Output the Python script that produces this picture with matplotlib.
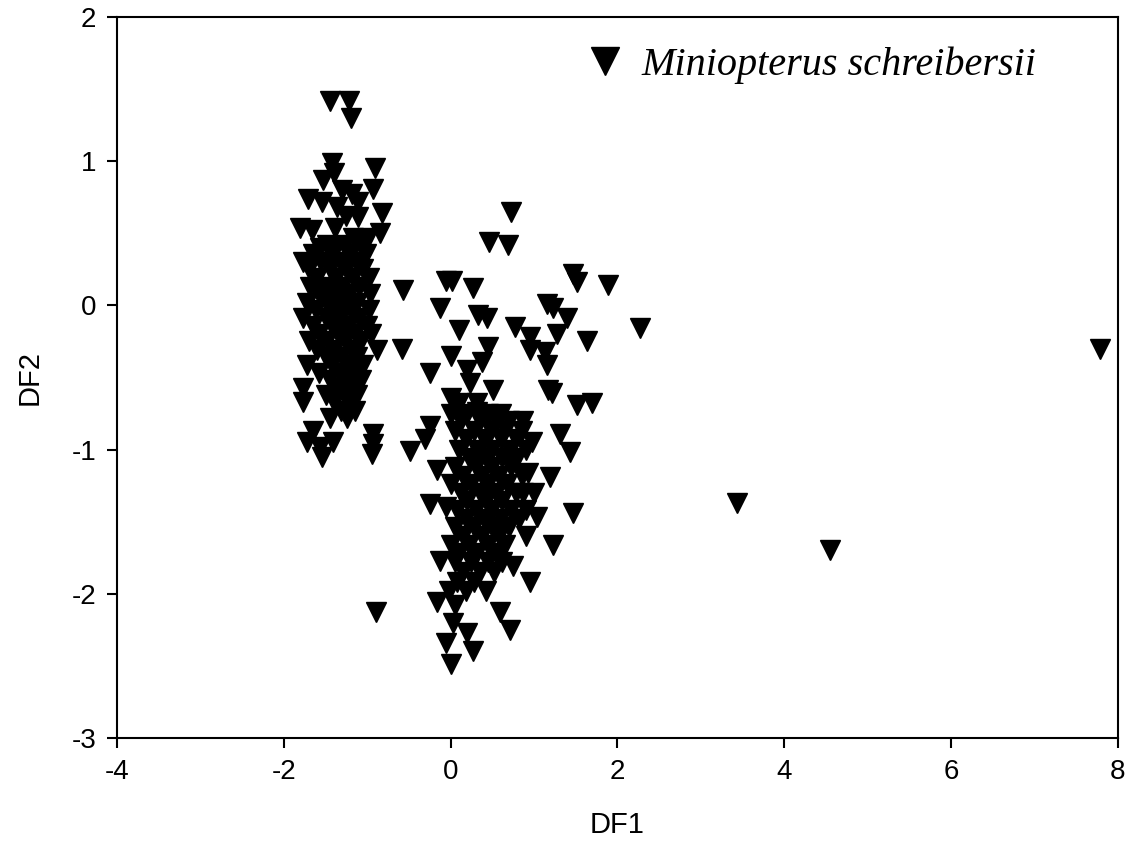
import numpy as np
import matplotlib
matplotlib.use("Agg")
from matplotlib import pyplot as plt

plt.rcParams['font.family'] = ['Liberation Sans', 'DejaVu Sans']
plt.rcParams['axes.unicode_minus'] = False

# left cluster (DF1, DF2)
left_x = [-1.45, -1.22, -1.20,
          -1.42, -1.40, -0.91, -1.53, -1.30, -1.18, -0.93, -1.71, -1.54, -1.36, -1.11,
          -0.82, -1.11, -1.25, -1.81, -1.66, -1.39, -0.85, -1.17, -0.99, -1.57, -1.37,
          -1.77, -0.57,
          -1.48, -1.28, -1.08,
          -1.65, -1.42, -1.20, -1.02,
          -1.55, -1.33, -1.13,
          -1.70, -1.45, -1.25, -1.05,
          -1.60, -1.38, -1.17, -0.98,
          -1.68, -1.50, -1.30, -1.10,
          -1.58, -1.40, -1.22, -0.97,
          -1.72, -1.48, -1.30, -1.12,
          -1.62, -1.40, -1.20, -0.98,
          -1.77, -1.50, -1.32, -1.10,
          -1.65, -1.42, -1.22, -1.00,
          -1.58, -1.35, -1.15, -0.95,
          -1.70, -1.48, -1.27, -1.07,
          -1.60, -1.40, -1.18, -0.88,
          -1.50, -1.30, -1.12,
          -1.72, -1.42, -1.22, -1.05,
          -1.58, -1.33, -1.15,
          -1.45, -1.25, -1.08,
          -1.77, -1.37, -1.18,
          -1.50, -1.28, -1.12,
          -1.77, -1.40, -1.20,
          -1.32, -1.15,
          -1.45, -1.24,
          -1.65, -1.72, -1.57, -1.41, -1.54, -0.93, -0.93, -0.94, -0.58]
left_y = [1.42, 1.42, 1.30,
          0.99, 0.92, 0.95, 0.87, 0.80, 0.77, 0.81, 0.74, 0.72, 0.68, 0.72,
          0.64, 0.61, 0.62, 0.54, 0.52, 0.54, 0.50, 0.47, 0.47, 0.40, 0.40,
          0.30, 0.11,
          0.42, 0.42, 0.42,
          0.36, 0.36, 0.36, 0.36,
          0.30, 0.30, 0.30,
          0.25, 0.25, 0.25, 0.25,
          0.19, 0.19, 0.19, 0.19,
          0.13, 0.13, 0.13, 0.13,
          0.08, 0.08, 0.08, 0.08,
          0.02, 0.02, 0.02, 0.02,
          -0.03, -0.03, -0.03, -0.03,
          -0.09, -0.09, -0.09, -0.09,
          -0.14, -0.14, -0.14, -0.14,
          -0.20, -0.20, -0.20, -0.20,
          -0.25, -0.25, -0.25, -0.25,
          -0.31, -0.31, -0.31, -0.31,
          -0.36, -0.36, -0.36,
          -0.41, -0.41, -0.41, -0.41,
          -0.47, -0.47, -0.47,
          -0.52, -0.52, -0.52,
          -0.57, -0.57, -0.57,
          -0.62, -0.62, -0.62,
          -0.67, -0.67, -0.67,
          -0.73, -0.73,
          -0.78, -0.78,
          -0.87, -0.95, -0.98, -0.95, -1.05, -0.89, -0.96, -1.03, -0.30]

# right cluster and outliers
right_x = [-0.05, 0.02, 0.27, 0.46, 0.69, 0.72, 1.47, 1.52, 1.89, 2.27,
           -0.13, 0.33, 0.44, 1.16, 1.23, 1.40, 0.10, 0.77, 0.95, 1.28, 1.64,
           0.01, 0.45, 0.95, 1.13, 1.16, 0.38, -0.25, 0.20, 0.23, 0.51, 1.17, 1.21,
           1.52, 1.70, 0.00, 0.08, 0.32, -0.25, 0.87, 1.31, 0.98,
           -0.31, -0.49, 1.43, 0.93, 1.19, -0.16, -0.25, -0.05, 1.47, 1.23, 1.04,
           -0.13, 0.95, 0.75, 0.87,
           -0.16, 0.05, 0.59, 0.71, 0.03, 0.20, -0.05, 0.27, 0.01, -0.90,
           3.43, 4.55, 7.79,
           0.10, 0.32,
           0.00, 0.20, 0.45, 0.60,
           0.12, 0.35, 0.55, 0.70,
           0.05, 0.28, 0.48, 0.65, 0.85,
           0.18, 0.40, 0.60, 0.78,
           0.10, 0.32, 0.50, 0.70, 0.90,
           0.22, 0.42, 0.62, 0.80,
           0.05, 0.30, 0.50, 0.72,
           0.15, 0.38, 0.58, 0.85,
           0.00, 0.25, 0.45, 0.68,
           0.12, 0.35, 0.55, 0.78, 1.00,
           0.20, 0.42, 0.62,
           0.08, 0.30, 0.50, 0.72, 0.90,
           0.18, 0.40, 0.60, 0.82,
           0.05, 0.28, 0.50, 0.70,
           0.15, 0.38, 0.58, 0.90,
           0.00, 0.22, 0.45, 0.65,
           0.10, 0.32, 0.55,
           0.05, 0.25, 0.45, 0.62,
           0.15, 0.35, 0.52,
           0.08, 0.28,
           -0.02, 0.18, 0.42]
right_y = [0.17, 0.17, 0.12, 0.44, 0.42, 0.65, 0.22, 0.16, 0.14, -0.16,
           -0.02, -0.07, -0.09, 0.01, -0.02, -0.09, -0.17, -0.15, -0.22, -0.20, -0.25,
           -0.35, -0.29, -0.31, -0.32, -0.41, -0.39, -0.47, -0.45, -0.54, -0.59, -0.59, -0.61,
           -0.69, -0.68, -0.64, -0.70, -0.74, -0.84, -0.80, -0.89, -0.95,
           -0.93, -1.01, -1.02, -1.16, -1.19, -1.14, -1.38, -1.40, -1.44, -1.66, -1.47,
           -1.77, -1.92, -1.81, -1.30,
           -2.06, -2.08, -2.13, -2.25, -2.20, -2.27, -2.34, -2.40, -2.49, -2.13,
           -1.37, -1.70, -0.30,
           -0.68, -0.68,
           -0.75, -0.75, -0.75, -0.75,
           -0.80, -0.80, -0.80, -0.80,
           -0.87, -0.87, -0.87, -0.87, -0.87,
           -0.93, -0.93, -0.93, -0.93,
           -1.00, -1.00, -1.00, -1.00, -1.00,
           -1.06, -1.06, -1.06, -1.06,
           -1.12, -1.12, -1.12, -1.12,
           -1.18, -1.18, -1.18, -1.18,
           -1.24, -1.24, -1.24, -1.24,
           -1.30, -1.30, -1.30, -1.30, -1.30,
           -1.36, -1.36, -1.36,
           -1.42, -1.42, -1.42, -1.42, -1.42,
           -1.48, -1.48, -1.48, -1.48,
           -1.54, -1.54, -1.54, -1.54,
           -1.60, -1.60, -1.60, -1.60,
           -1.66, -1.66, -1.66, -1.66,
           -1.72, -1.72, -1.72,
           -1.78, -1.78, -1.78, -1.78,
           -1.85, -1.85, -1.85,
           -1.92, -1.92,
           -1.98, -1.98, -1.98]

df1 = np.array(left_x + right_x)
df2 = np.array(left_y + right_y)

xticks = [-4, -2, 0, 2, 4, 6, 8]
yticks = [-3, -2, -1, 0, 1, 2]

fig = plt.figure(figsize=(11.36, 8.55), dpi=100)
ax = fig.add_axes([0.103, 0.137, 0.881, 0.843])

ax.plot(df1, df2, linestyle='none', marker='v', markersize=14,
        markeredgewidth=1, color='black', label='Miniopterus schreibersii')

ax.set_xlim(-4, 8)
ax.set_ylim(-3, 2)
ax.set_xticks(xticks)
ax.set_yticks(yticks)
ax.tick_params(direction='out', length=7, width=1.5, labelsize=20, pad=8)
for s in ax.spines.values():
    s.set_linewidth(1.5)

ax.set_xlabel('DF1', fontsize=21, labelpad=19)
ax.set_ylabel('DF2', fontsize=21, labelpad=20)

leg = ax.legend(loc='upper right', bbox_to_anchor=(0.955, 1.01), frameon=False,
                handletextpad=0.3, borderaxespad=0.5, handlelength=1.2,
                markerscale=1.45,
                prop={'family': 'Liberation Serif', 'style': 'italic', 'size': 29})

fig.savefig('out.png', dpi=100)
